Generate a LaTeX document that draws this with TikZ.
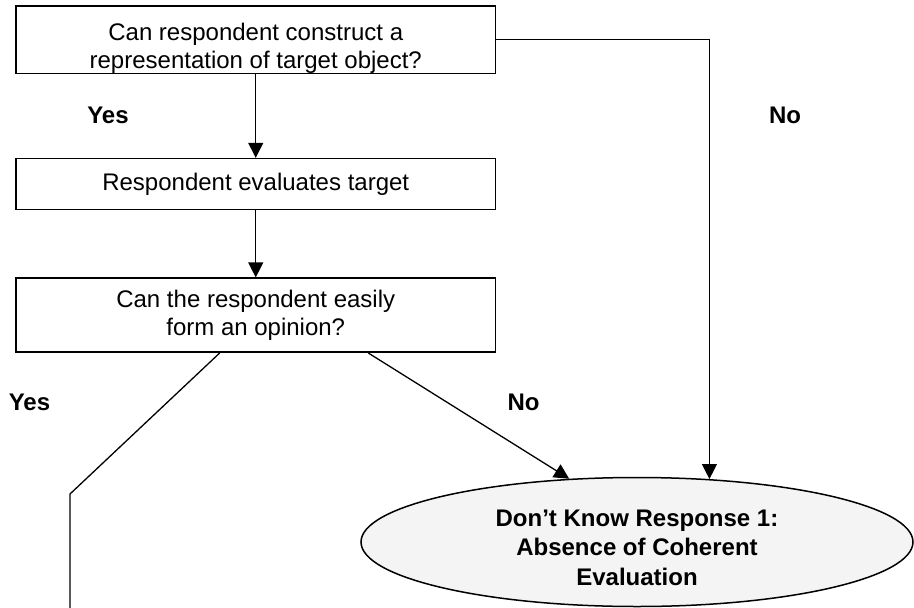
\documentclass[tikz,border=0pt]{standalone}
\usepackage{fontspec}
\setmainfont{Liberation Sans}
\usetikzlibrary{arrows.meta,%
                shapes.geometric,positioning}
\usetikzlibrary{calc}

\begin{document}
\begin{tikzpicture}[x=1pt,y=-1pt]
  \useasboundingbox (0,0) rectangle (914,608);
  \tikzset{BoxStyle/.style = {draw=black, line width=1.6pt, shape=rectangle, minimum width=479.5pt, inner sep=0pt, align=center, text=black, font=\fontsize{24}{28.5}\selectfont}}
  \tikzset{EndStyle/.style = {draw=black, line width=1.5pt, shape=ellipse, fill=gray!9, minimum width=552pt, minimum height=129pt, inner sep=0pt, align=center, font=\bfseries\fontsize{24}{29.5}\selectfont}}
  \tikzset{AnsStyle/.style = {text=black, font=\bfseries\fontsize{24}{28}\selectfont}}
  \tikzset{EdgeStyle/.style = {line width=1.3pt, -{Triangle[length=15pt,width=15pt]}}}
  \tikzset{LineStyle/.style = {line width=1.3pt}}

  \node(q1)[BoxStyle, minimum height=67.5pt, text height=56.5pt, text depth=0pt, font=\fontsize{24}{27.5}\selectfont] at (255.75,39.75){Can respondent construct a\\representation of target object?};
  \node(q2)[BoxStyle, minimum height=51pt, below=83.5pt of q1]{Respondent evaluates target};
  \node(q3)[BoxStyle, minimum height=74pt, below=67pt of q2]{Can the respondent easily\\form an opinion?};
  \node(dk)[EndStyle, text height=86pt, text depth=0pt] at (637,542){Don’t Know Response 1:\\Absence of Coherent\\Evaluation};

  \node(yes1)[AnsStyle] at (108,115){Yes};
  \node(no1)[AnsStyle] at (785,115){No};
  \node(yes2)[AnsStyle] at (29.5,402){Yes};
  \node(no2)[AnsStyle] at (523.5,402){No};

  \coordinate(bend) at (70,494);
  \coordinate(off) at (70,612);

     \draw[EdgeStyle](q1) to (q2);
     \draw[EdgeStyle](q2) to (q3);
     \draw[EdgeStyle](q1.east) -| (dk.41.5);
     \draw[EdgeStyle]($(q3.south west)!0.734!(q3.south east)$) to (dk.137);
     \draw[LineStyle]($(q3.south west)!0.425!(q3.south east)$) -- (bend) -- (off);

\end{tikzpicture}
\end{document}
